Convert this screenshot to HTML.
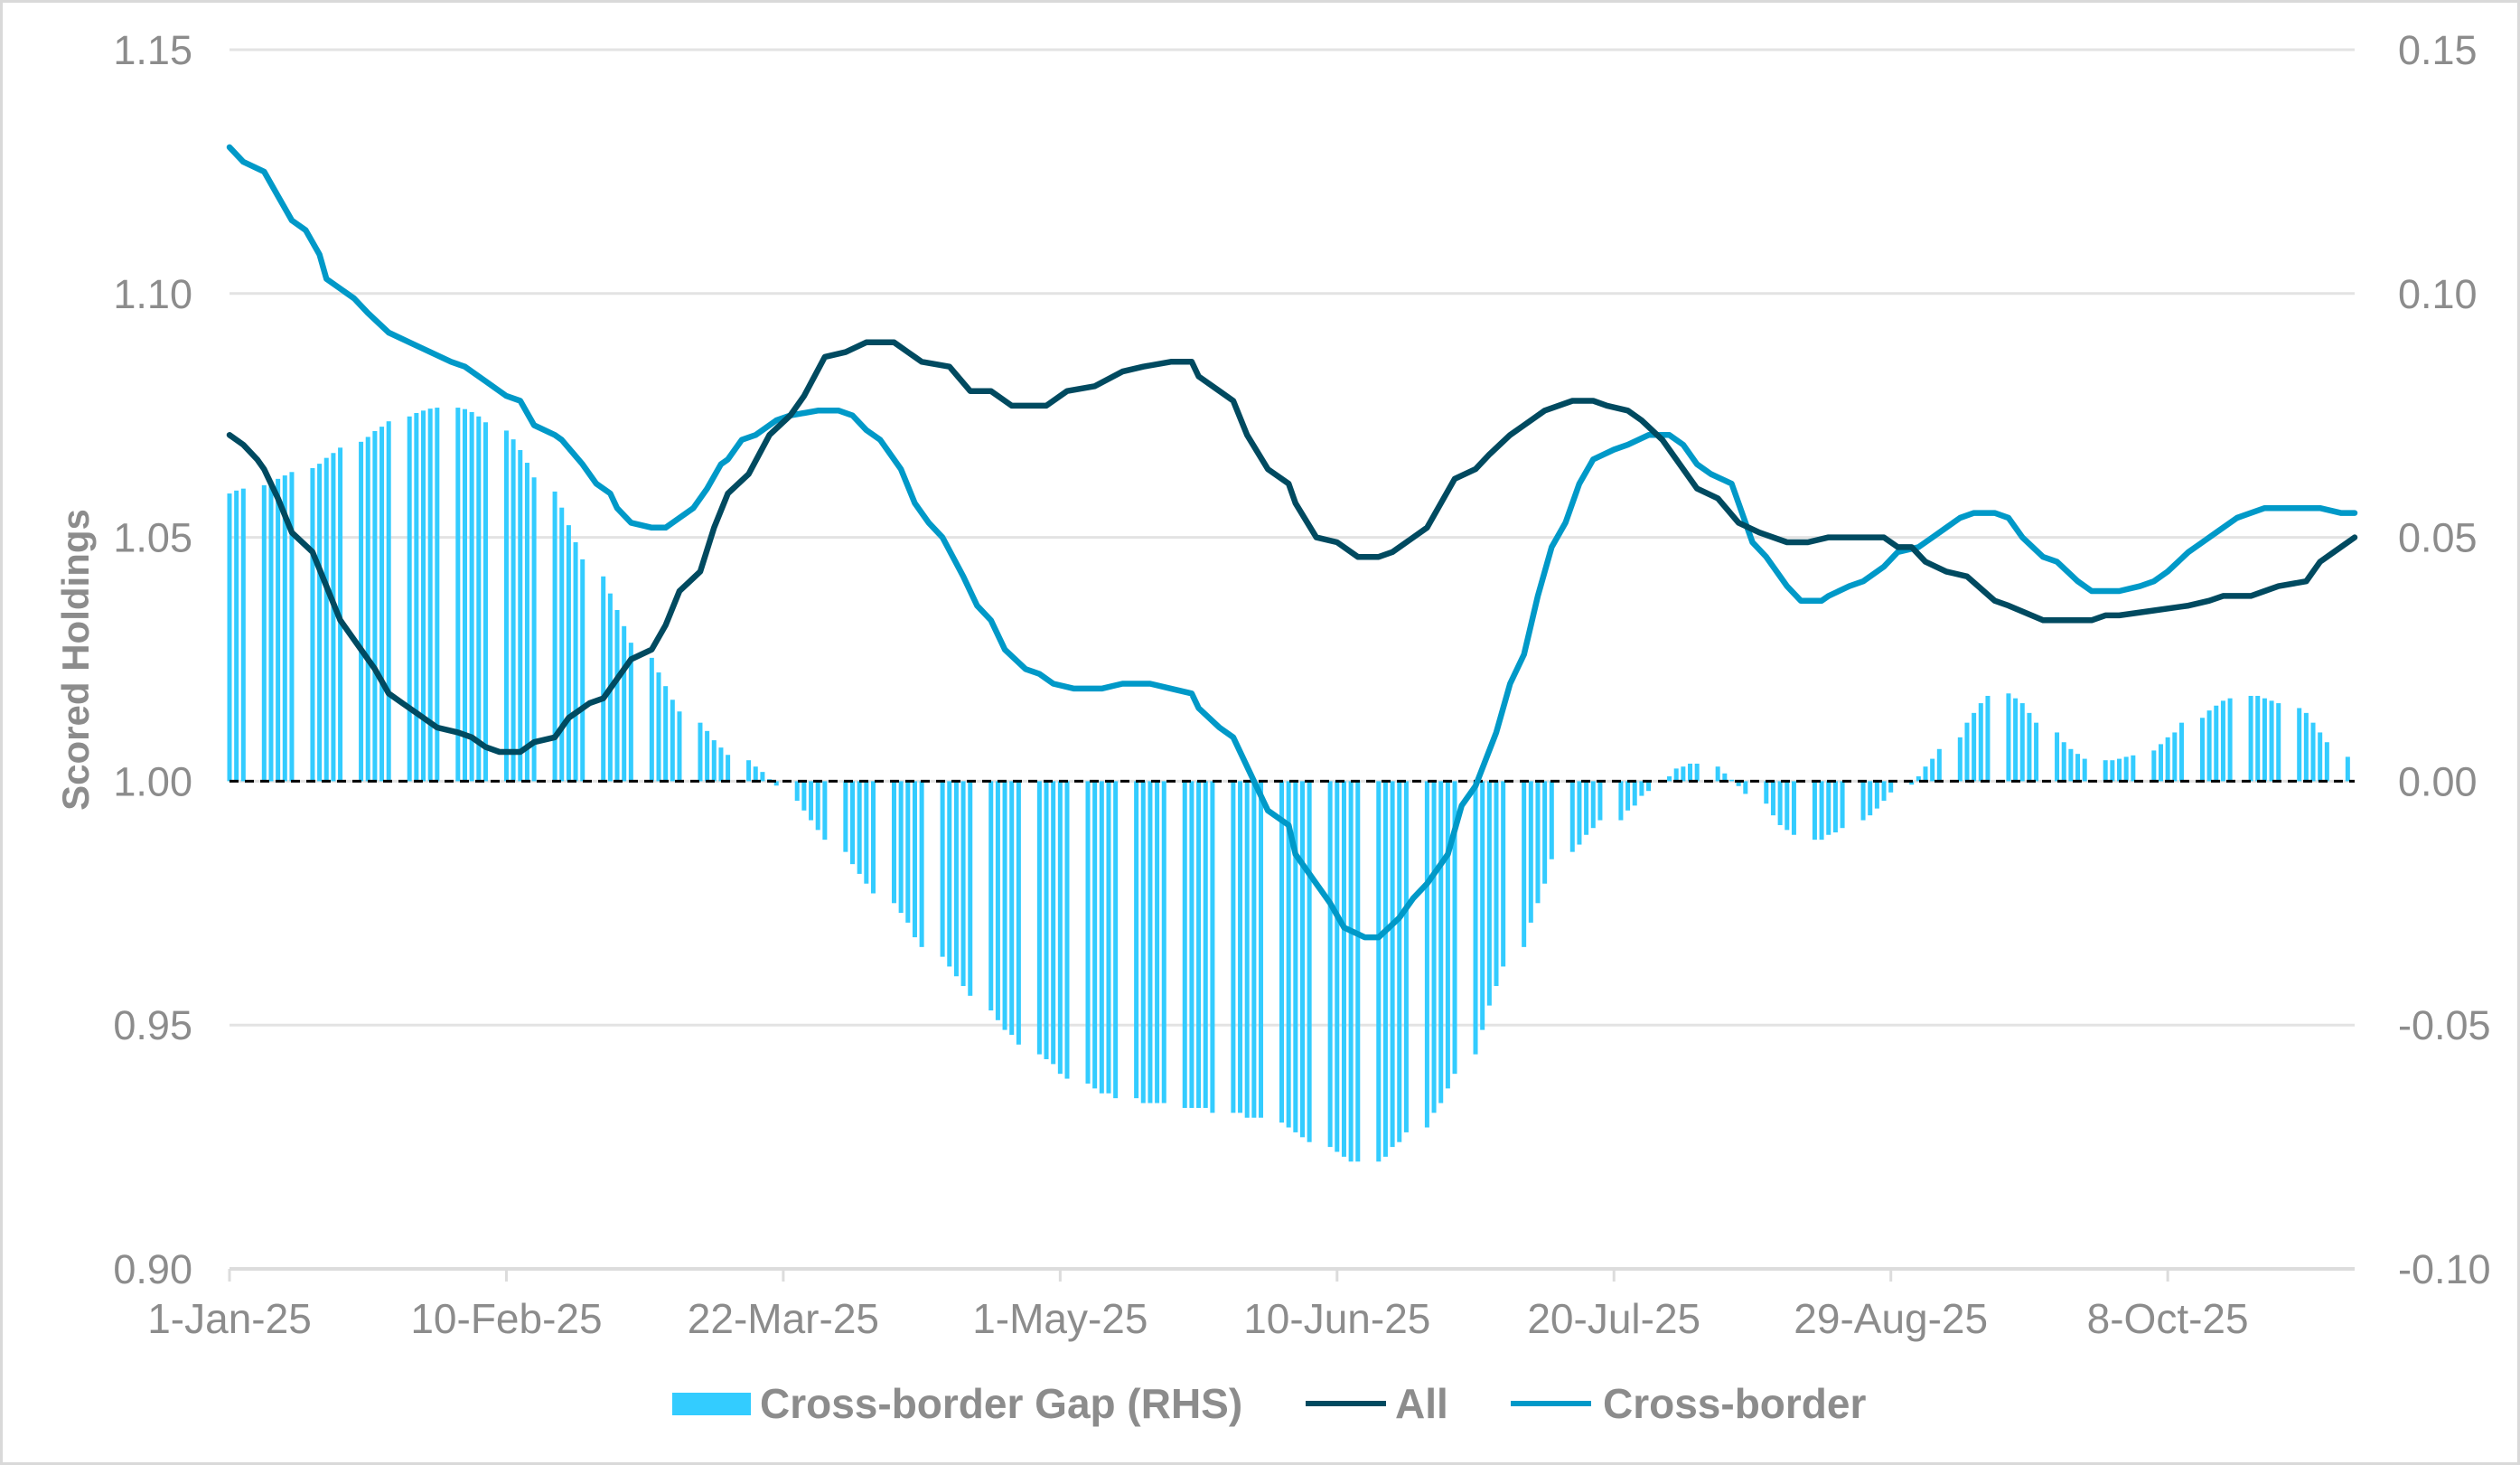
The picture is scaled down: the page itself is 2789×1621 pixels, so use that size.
<!DOCTYPE html>
<html><head><meta charset="utf-8"><style>
html,body{margin:0;padding:0;background:#fff;}
svg{display:block;font-family:"Liberation Sans",sans-serif;}
</style></head><body>
<svg id="chart" width="2789" height="1621" viewBox="0 0 2789 1621" xmlns="http://www.w3.org/2000/svg">
<rect x="1.5" y="1.5" width="2786" height="1618" fill="#fff" stroke="#d9d9d9" stroke-width="3"/>
<g id="grid"></g>
<g id="bars"></g>
<g id="axes"></g>
<g id="lines"></g>
<text transform="translate(98,730) rotate(-90)" text-anchor="middle" font-size="42" font-weight="bold" fill="#8c8c8c">Scored Holdings</text>
<g>
<g><rect x="744" y="1541" width="87" height="25" fill="#33ccff"/><text x="841" y="1569" font-size="46" font-weight="bold" fill="#8c8c8c">Cross-border Gap (RHS)</text></g>
<g><line x1="1445" y1="1553" x2="1534" y2="1553" stroke="#004a60" stroke-width="6"/><text x="1544" y="1569" font-size="46" font-weight="bold" fill="#8c8c8c">All</text></g>
<g><line x1="1672" y1="1553" x2="1761" y2="1553" stroke="#0099c8" stroke-width="6"/><text x="1774" y="1569" font-size="46" font-weight="bold" fill="#8c8c8c">Cross-border</text></g>
</g>
</svg>
<script>
const leftTicks=["1.15","1.10","1.05","1.00","0.95","0.90"];
const leftTickValues=[1.15,1.10,1.05,1.00,0.95,0.90];
const rightTicks=["0.15","0.10","0.05","0.00","-0.05","-0.10"];
const xTickLabels=["1-Jan-25","10-Feb-25","22-Mar-25","1-May-25","10-Jun-25","20-Jul-25","29-Aug-25","8-Oct-25"];
const xTickDays=[0,40,80,120,160,200,240,280];
const crossDays=[0,2,5,7,9,11,13,14,16,18,20,23,26,29,32,34,37,40,42,44,47,48,51,53,55,56,58,61,63,65,67,69,71,72,74,76,79,81,85,88,90,92,94,97,99,101,103,106,108,110,112,115,117,119,122,126,129,133,136,139,140,143,145,147,150,153,154,157,159,161,164,166,169,171,173,176,178,180,183,185,187,189,191,193,195,197,200,202,205,208,210,212,214,217,220,222,225,227,230,231,234,236,239,241,244,246,248,250,252,255,257,259,262,264,267,269,271,273,276,278,280,283,285,287,290,292,294,296,300,302,305,307];
const crossVals=[1.130,1.127,1.125,1.120,1.115,1.113,1.108,1.103,1.101,1.099,1.096,1.092,1.090,1.088,1.086,1.085,1.082,1.079,1.078,1.073,1.071,1.070,1.065,1.061,1.059,1.056,1.053,1.052,1.052,1.054,1.056,1.060,1.065,1.066,1.070,1.071,1.074,1.075,1.076,1.076,1.075,1.072,1.070,1.064,1.057,1.053,1.050,1.042,1.036,1.033,1.027,1.023,1.022,1.020,1.019,1.019,1.020,1.020,1.019,1.018,1.015,1.011,1.009,1.003,0.994,0.991,0.985,0.979,0.975,0.970,0.968,0.968,0.972,0.976,0.979,0.985,0.995,0.999,1.010,1.020,1.026,1.038,1.048,1.053,1.061,1.066,1.068,1.069,1.071,1.071,1.069,1.065,1.063,1.061,1.049,1.046,1.040,1.037,1.037,1.038,1.040,1.041,1.044,1.047,1.048,1.050,1.052,1.054,1.055,1.055,1.054,1.050,1.046,1.045,1.041,1.039,1.039,1.039,1.040,1.041,1.043,1.047,1.049,1.051,1.054,1.055,1.056,1.056,1.056,1.056,1.055,1.055];
const allDays=[0,2,4,5,7,9,12,14,16,18,21,23,25,27,30,33,35,37,39,42,44,47,49,52,54,56,58,61,63,65,68,70,72,75,78,81,83,86,89,92,96,98,100,104,107,110,113,115,118,121,125,129,132,136,139,140,143,145,147,150,153,154,157,160,163,166,168,171,173,177,180,182,185,187,190,194,197,199,202,204,207,209,212,215,218,221,225,228,231,236,239,241,243,245,248,251,255,257,262,265,269,271,273,278,283,286,288,292,294,296,300,302,304,307];
const allVals=[1.071,1.069,1.066,1.064,1.058,1.051,1.047,1.040,1.033,1.029,1.023,1.018,1.016,1.014,1.011,1.010,1.009,1.007,1.006,1.006,1.008,1.009,1.013,1.016,1.017,1.021,1.025,1.027,1.032,1.039,1.043,1.052,1.059,1.063,1.071,1.075,1.079,1.087,1.088,1.090,1.090,1.088,1.086,1.085,1.080,1.080,1.077,1.077,1.077,1.080,1.081,1.084,1.085,1.086,1.086,1.083,1.080,1.078,1.071,1.064,1.061,1.057,1.050,1.049,1.046,1.046,1.047,1.050,1.052,1.062,1.064,1.067,1.071,1.073,1.076,1.078,1.078,1.077,1.076,1.074,1.070,1.066,1.060,1.058,1.053,1.051,1.049,1.049,1.050,1.050,1.050,1.048,1.048,1.045,1.043,1.042,1.037,1.036,1.033,1.033,1.033,1.034,1.034,1.035,1.036,1.037,1.038,1.038,1.039,1.040,1.041,1.045,1.047,1.050];
// weekday values from 1-Jan-25 (Wed) onwards
const gapVals=[0.059,0.0596,0.060,
0.0607,0.0615,0.062,0.0627,0.0634,
0.0642,0.0651,0.0663,0.0673,0.0684,
0.0696,0.0706,0.0718,0.0727,0.0738,
0.0748,0.0755,0.076,0.0764,0.0766,
0.0766,0.0763,0.0757,0.0748,0.0736,
0.0719,0.0701,0.0679,0.0653,0.0623,
0.0594,0.0561,0.0525,0.049,0.0455,
0.042,0.0385,0.0351,0.0318,0.0284,
0.0253,0.0223,0.0195,0.0167,0.0143,
0.012,0.0103,0.0084,0.0069,0.0054,
0.0043,0.003,0.0019,0.0004,-0.0009,
-0.004,-0.006,-0.008,-0.010,-0.012,
-0.0145,-0.017,-0.019,-0.021,-0.023,
-0.025,-0.027,-0.029,-0.032,-0.034,
-0.036,-0.038,-0.040,-0.042,-0.044,
-0.047,-0.049,-0.051,-0.052,-0.054,
-0.056,-0.057,-0.058,-0.060,-0.061,
-0.062,-0.063,-0.064,-0.064,-0.065,
-0.065,-0.066,-0.066,-0.066,-0.066,
-0.067,-0.067,-0.067,-0.067,-0.068,
-0.068,-0.068,-0.069,-0.069,-0.069,
-0.070,-0.071,-0.072,-0.073,-0.074,
-0.075,-0.076,-0.077,-0.078,-0.078,
-0.078,-0.077,-0.075,-0.074,-0.072,
-0.071,-0.068,-0.066,-0.063,-0.060,
-0.056,-0.051,-0.046,-0.042,-0.038,
-0.034,-0.029,-0.025,-0.021,-0.016,
-0.0145,-0.013,-0.011,-0.0096,-0.008,
-0.008,-0.006,-0.005,-0.003,-0.002,
0.001,0.0026,0.003,0.0036,0.0036,
0.003,0.0016,0.0003,-0.001,-0.0026,
-0.0046,-0.007,-0.009,-0.010,-0.011,
-0.012,-0.012,-0.011,-0.0105,-0.0096,
-0.008,-0.007,-0.0056,-0.004,-0.0023,
-0.0007,0.001,0.003,0.0046,0.0066,
0.009,0.012,0.014,0.016,0.0175,
0.018,0.017,0.016,0.014,0.012,
0.010,0.008,0.0066,0.0056,0.0046,
0.0043,0.0043,0.0046,0.005,0.0053,
0.0063,0.0076,0.009,0.010,0.012,
0.013,0.0145,0.0155,0.0165,0.017,
0.0175,0.0175,0.017,0.0165,0.016,
0.015,0.014,0.012,0.010,0.008,
0.005];

const NS="http://www.w3.org/2000/svg";
const X0=254,X1=2606,DAYS=307,Y0=55,Y1=1404;
const xS=d=>X0+(X1-X0)*d/DAYS;
const yL=v=>Y0+(1.15-v)/0.25*(Y1-Y0);
const yR=v=>Y0+(0.15-v)/0.25*(Y1-Y0);
function mk(tag,attrs,parent){const e=document.createElementNS(NS,tag);for(const k in attrs)e.setAttribute(k,attrs[k]);parent.appendChild(e);return e;}
const grid=document.getElementById('grid'),axes=document.getElementById('axes'),bars=document.getElementById('bars'),lines=document.getElementById('lines');

leftTickValues.forEach((v,i)=>{
  const y=yL(v);
  if(i<leftTickValues.length-1){const g=mk('line',{x1:X0,x2:X1,y1:y,y2:y,stroke:'#e3e3e3','stroke-width':3},grid);
  
  }
  const t=mk('text',{x:213,y:y+16,'text-anchor':'end','font-size':45,fill:'#8c8c8c'},axes);t.textContent=leftTicks[i];
  
  
  const r=mk('text',{x:2654,y:y+16,'text-anchor':'start','font-size':45,fill:'#8c8c8c'},axes);r.textContent=rightTicks[i];
  
  
});

// bars on weekdays
let d=0,bi=0;const start=new Date(Date.UTC(2025,0,1));
while(bi<gapVals.length&&d<=DAYS){
  const dt=new Date(start.getTime()+d*86400000);const wd=dt.getUTCDay();
  if(wd!==0&&wd!==6){
    const v=gapVals[bi];const x=xS(d);const y0=yR(0),y=yR(v);
    const b=mk('rect',{x:x-2.5,y:Math.min(y,y0),width:5,height:Math.max(1,Math.abs(y-y0)),fill:'#33ccff'},bars);
    
    
    bi++;
  }
  d++;
}

// x axis
const ax=mk('line',{x1:X0,x2:X1,y1:Y1,y2:Y1,stroke:'#dcdcdc','stroke-width':4},axes);


xTickDays.forEach((td,i)=>{
  const x=xS(td);
  const tk=mk('line',{x1:x,x2:x,y1:Y1,y2:Y1+14,stroke:'#dcdcdc','stroke-width':3},axes);
  
  
  const t=mk('text',{x:x,y:1475,'text-anchor':'middle','font-size':46,fill:'#8c8c8c'},axes);t.textContent=xTickLabels[i];
  
  
});
const zl=mk('line',{x1:X0,x2:X1,y1:yR(0),y2:yR(0),stroke:'#000','stroke-width':3,'stroke-dasharray':'10 7'},axes);



function path(days,vals,color,name){
  const p=mk('path',{d:days.map((dd,i)=>(i?'L':'M')+xS(dd).toFixed(1)+','+yL(vals[i]).toFixed(1)).join(''),fill:'none',stroke:color,'stroke-width':6.5,'stroke-linejoin':'round','stroke-linecap':'round'},lines);
  
  
}
path(crossDays,crossVals,'#0099c8','cross-border-line');
path(allDays,allVals,'#004a60','all-line');
</script>
</body></html>
